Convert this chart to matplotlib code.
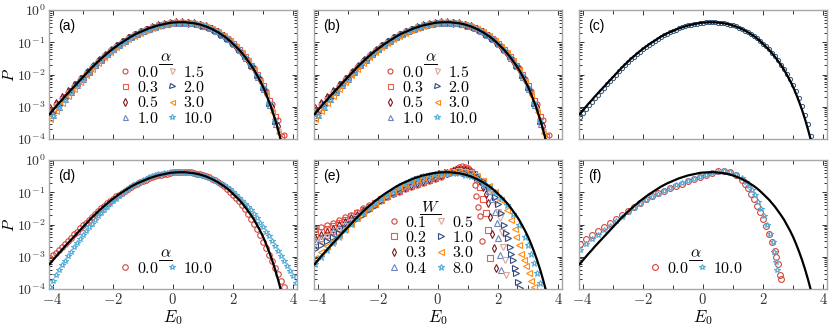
import numpy as np
import matplotlib.pyplot as plt
from matplotlib.ticker import MultipleLocator, LogLocator, NullFormatter, FuncFormatter
from matplotlib.lines import Line2D

plt.rcParams.update({
    'font.family': 'serif',
    'font.serif': ['cmr10', 'DejaVu Serif'],
    'mathtext.fontset': 'cm',
    'axes.formatter.use_mathtext': True,
})

# ---- data (log10 P) ----
e0_grid = [-4.1, -4.0, -3.9, -3.8, -3.7, -3.6, -3.5, -3.4, -3.3, -3.2, -3.1, -3.0,
           -2.9, -2.8, -2.7, -2.6, -2.5, -2.4, -2.3, -2.2, -2.1, -2.0, -1.9, -1.8,
           -1.7, -1.6, -1.5, -1.4, -1.3, -1.2, -1.1, -1.0, -0.9, -0.8, -0.7, -0.6,
           -0.5, -0.4, -0.3, -0.2, -0.1, 0.0, 0.1, 0.2, 0.3, 0.4, 0.5, 0.6, 0.7,
           0.8, 0.9, 1.0, 1.1, 1.2, 1.3, 1.4, 1.5, 1.6, 1.7, 1.8, 1.9, 2.0, 2.1,
           2.2, 2.3, 2.4, 2.5, 2.6, 2.7, 2.8, 2.9, 3.0, 3.1, 3.2, 3.3, 3.4, 3.5,
           3.6, 3.7, 3.8, 3.9, 4.0, 4.1]
e0_odd = e0_grid[0::2]    # -4.1, -3.9, ...
e0_even = e0_grid[1::2]   # -4.0, -3.8, ...

logp_theory = [-3.23, -3.12, -3.01, -2.90, -2.80, -2.69, -2.59, -2.49, -2.39, -2.29,
               -2.19, -2.09, -1.99, -1.89, -1.79, -1.70, -1.61, -1.52, -1.44, -1.36,
               -1.28, -1.21, -1.14, -1.07, -1.01, -0.95, -0.89, -0.83, -0.78, -0.73,
               -0.69, -0.65, -0.61, -0.57, -0.54, -0.51, -0.48, -0.46, -0.44, -0.42,
               -0.40, -0.39, -0.385, -0.38, -0.38, -0.38, -0.39, -0.40, -0.41, -0.43,
               -0.45, -0.48, -0.51, -0.55, -0.59, -0.64, -0.69, -0.75, -0.81, -0.88,
               -0.96, -1.05, -1.14, -1.23, -1.34, -1.45, -1.58, -1.71, -1.85, -2.02,
               -2.19, -2.38, -2.60, -2.84, -3.10, -3.39, -3.71, -4.06, -4.43]

alpha_labels = ['0.0', '0.3', '0.5', '1.0', '1.5', '2.0', '3.0', '10.0']
w_labels = ['0.1', '0.2', '0.3', '0.4', '0.5', '1.0', '3.0', '8.0']

# panels (a) and (b): alternate series on odd / even grid
alpha_on_odd = [True, False, True, False, True, False, True, False]
logp_alpha = [
    [-3.13, -2.93, -2.74, -2.54, -2.35, -2.16, -1.97, -1.77, -1.59, -1.42, -1.27, -1.13, -1.00, -0.88,
     -0.77, -0.68, -0.60, -0.53, -0.47, -0.43, -0.39, -0.375, -0.37, -0.38, -0.40, -0.44, -0.50, -0.58,
     -0.68, -0.80, -0.94, -1.12, -1.32, -1.55, -1.81, -2.14, -2.50, -2.90, -3.41, -3.88],
    [-3.08, -2.87, -2.67, -2.47, -2.27, -2.08, -1.88, -1.69, -1.51, -1.35, -1.20, -1.06, -0.94, -0.82,
     -0.72, -0.64, -0.56, -0.50, -0.45, -0.41, -0.38, -0.37, -0.37, -0.39, -0.42, -0.47, -0.54, -0.63,
     -0.74, -0.87, -1.03, -1.21, -1.43, -1.69, -1.99, -2.34, -2.78, -3.30, -3.90],
    [-3.05, -2.88, -2.70, -2.51, -2.33, -2.14, -1.95, -1.76, -1.58, -1.42, -1.27, -1.13, -1.00, -0.88,
     -0.78, -0.69, -0.61, -0.54, -0.48, -0.43, -0.40, -0.38, -0.38, -0.39, -0.41, -0.45, -0.51, -0.59,
     -0.69, -0.81, -0.96, -1.14, -1.34, -1.57, -1.84, -2.17, -2.56, -3.02, -3.60, -4.20],
    [-3.25, -3.00, -2.77, -2.55, -2.34, -2.13, -1.92, -1.72, -1.54, -1.37, -1.22, -1.08, -0.96, -0.84,
     -0.74, -0.65, -0.58, -0.52, -0.47, -0.43, -0.40, -0.39, -0.39, -0.41, -0.44, -0.49, -0.56, -0.65,
     -0.76, -0.89, -1.06, -1.25, -1.48, -1.75, -2.08, -2.46, -2.95, -3.55, -4.30],
    [-3.20, -2.99, -2.79, -2.58, -2.38, -2.18, -1.98, -1.79, -1.60, -1.43, -1.28, -1.14, -1.01, -0.89,
     -0.78, -0.69, -0.61, -0.54, -0.48, -0.44, -0.40, -0.38, -0.38, -0.39, -0.41, -0.45, -0.51, -0.59,
     -0.69, -0.81, -0.96, -1.14, -1.34, -1.58, -1.86, -2.20, -2.62, -3.12, -3.75, -4.40],
    [-3.18, -2.95, -2.73, -2.52, -2.31, -2.11, -1.90, -1.71, -1.53, -1.37, -1.22, -1.08, -0.96, -0.84,
     -0.74, -0.65, -0.58, -0.52, -0.47, -0.43, -0.40, -0.39, -0.39, -0.41, -0.44, -0.49, -0.56, -0.65,
     -0.76, -0.89, -1.06, -1.24, -1.46, -1.73, -2.05, -2.42, -2.90, -3.48, -4.20],
    [-3.38, -3.12, -2.89, -2.66, -2.45, -2.24, -2.03, -1.83, -1.64, -1.47, -1.31, -1.16, -1.03, -0.91,
     -0.80, -0.70, -0.62, -0.55, -0.49, -0.44, -0.40, -0.38, -0.37, -0.37, -0.39, -0.43, -0.49, -0.56,
     -0.66, -0.78, -0.93, -1.11, -1.31, -1.55, -1.84, -2.20, -2.63, -3.15, -3.80, -4.50],
    [-3.30, -3.02, -2.78, -2.55, -2.34, -2.13, -1.92, -1.72, -1.54, -1.38, -1.23, -1.09, -0.96, -0.85,
     -0.74, -0.66, -0.58, -0.52, -0.47, -0.43, -0.40, -0.39, -0.39, -0.40, -0.43, -0.48, -0.55, -0.64,
     -0.75, -0.88, -1.05, -1.23, -1.45, -1.72, -2.03, -2.40, -2.87, -3.42, -4.10],
]

# panel (c): single data set on the 0.1 grid
logp_c = [-3.32, -3.20, -3.08, -2.96, -2.85, -2.74, -2.63, -2.52, -2.42, -2.31, -2.21, -2.11,
          -2.00, -1.90, -1.80, -1.71, -1.62, -1.53, -1.45, -1.37, -1.29, -1.22, -1.15, -1.08,
          -1.02, -0.96, -0.90, -0.84, -0.79, -0.74, -0.69, -0.65, -0.61, -0.57, -0.54, -0.51,
          -0.48, -0.46, -0.44, -0.42, -0.40, -0.39, -0.385, -0.38, -0.38, -0.38, -0.39, -0.40,
          -0.41, -0.43, -0.45, -0.48, -0.51, -0.55, -0.59, -0.64, -0.69, -0.75, -0.81, -0.88,
          -0.96, -1.04, -1.13, -1.22, -1.33, -1.44, -1.56, -1.69, -1.83, -1.98, -2.14, -2.32,
          -2.52, -2.74, -2.98, -3.25, -3.55, -3.90]

# panel (d): alpha = 0.0 and 10.0 on the 0.1 grid
logp_d_a0 = [-3.05, -2.96, -2.87, -2.78, -2.69, -2.59, -2.50, -2.41, -2.31, -2.22, -2.12, -2.03,
             -1.94, -1.85, -1.76, -1.67, -1.58, -1.50, -1.42, -1.34, -1.27, -1.20, -1.13, -1.07,
             -1.01, -0.95, -0.89, -0.83, -0.78, -0.73, -0.69, -0.65, -0.61, -0.57, -0.54, -0.51,
             -0.48, -0.46, -0.44, -0.42, -0.40, -0.385, -0.375, -0.37, -0.365, -0.365, -0.37,
             -0.38, -0.40, -0.42, -0.44, -0.47, -0.50, -0.54, -0.58, -0.63, -0.69, -0.75, -0.82,
             -0.90, -0.98, -1.07, -1.17, -1.28, -1.40, -1.53, -1.67, -1.82, -1.98, -2.15, -2.34,
             -2.54, -2.74, -2.94, -3.14, -3.34, -3.54, -3.74, -3.94]
logp_d_a10 = [-3.93, -3.75, -3.58, -3.42, -3.27, -3.12, -2.98, -2.84, -2.71, -2.58, -2.45, -2.33,
              -2.21, -2.09, -1.97, -1.86, -1.75, -1.65, -1.55, -1.46, -1.37, -1.28, -1.20, -1.12,
              -1.04, -0.97, -0.90, -0.84, -0.78, -0.72, -0.67, -0.62, -0.58, -0.54, -0.50, -0.47,
              -0.44, -0.42, -0.40, -0.39, -0.38, -0.375, -0.375, -0.38, -0.385, -0.39, -0.40,
              -0.41, -0.43, -0.45, -0.47, -0.50, -0.53, -0.56, -0.60, -0.64, -0.69, -0.74, -0.79,
              -0.85, -0.91, -1.00, -1.08, -1.17, -1.26, -1.35, -1.45, -1.56, -1.68, -1.81, -1.94,
              -2.08, -2.22, -2.37, -2.52, -2.67, -2.82, -2.97, -3.12, -3.28, -3.44, -3.61, -3.80]

# panel (e): disorder W, common left part + individual right tails
e0_left = [-4.1, -3.9, -3.7, -3.5, -3.3, -3.1, -2.9, -2.7, -2.5, -2.3, -2.1, -1.9,
           -1.7, -1.5, -1.3, -1.1, -0.9, -0.7, -0.5, -0.3, -0.1, 0.1, 0.3]
logp_w_left = [
    [-2.15, -2.09, -2.02, -1.95, -1.87, -1.78, -1.69, -1.60, -1.50, -1.41, -1.32, -1.23,
     -1.14, -1.06, -0.98, -0.90, -0.83, -0.76, -0.70, -0.64, -0.59, -0.52, -0.44],
    [-2.30, -2.22, -2.13, -2.04, -1.95, -1.85, -1.75, -1.65, -1.55, -1.45, -1.33, -1.22,
     -1.12, -1.03, -0.95, -0.87, -0.80, -0.73, -0.67, -0.61, -0.55, -0.48, -0.41],
    [-2.42, -2.33, -2.23, -2.13, -2.03, -1.92, -1.81, -1.70, -1.59, -1.48, -1.36, -1.24,
     -1.13, -1.02, -0.93, -0.85, -0.78, -0.71, -0.65, -0.59, -0.53, -0.46, -0.40],
    [-2.52, -2.42, -2.32, -2.21, -2.10, -1.98, -1.86, -1.74, -1.62, -1.49, -1.36, -1.24,
     -1.12, -1.01, -0.90, -0.80, -0.72, -0.65, -0.59, -0.54, -0.49, -0.44, -0.40],
    [-2.60, -2.50, -2.39, -2.28, -2.16, -2.04, -1.92, -1.79, -1.66, -1.53, -1.40, -1.27,
     -1.14, -1.02, -0.90, -0.79, -0.70, -0.63, -0.57, -0.52, -0.47, -0.43, -0.39],
    [-2.75, -2.63, -2.51, -2.38, -2.25, -2.12, -1.98, -1.84, -1.70, -1.56, -1.42, -1.28,
     -1.15, -1.02, -0.89, -0.77, -0.68, -0.60, -0.54, -0.49, -0.45, -0.41, -0.38],
    [-3.05, -2.86, -2.68, -2.50, -2.32, -2.14, -1.97, -1.80, -1.64, -1.49, -1.35, -1.21,
     -1.08, -0.96, -0.85, -0.75, -0.66, -0.58, -0.52, -0.47, -0.43, -0.40, -0.38],
    [-3.22, -3.00, -2.79, -2.58, -2.38, -2.18, -1.99, -1.80, -1.62, -1.46, -1.31, -1.17,
     -1.04, -0.92, -0.81, -0.72, -0.63, -0.56, -0.50, -0.45, -0.42, -0.40, -0.39],
]
e0_w_tail = [
    [0.5, 0.6, 0.7, 0.8, 0.9, 1.0, 1.1, 1.16, 1.22, 1.28, 1.34, 1.40, 1.46],
    [0.5, 0.6, 0.7, 0.8, 0.9, 1.0, 1.1, 1.2, 1.3, 1.4, 1.5, 1.6, 1.67, 1.73],
    [0.5, 0.6, 0.7, 0.8, 0.9, 1.0, 1.1, 1.2, 1.3, 1.4, 1.5, 1.6, 1.67, 1.73, 1.80, 1.86, 1.95],
    [0.5, 0.7, 0.9, 1.1, 1.3, 1.5, 1.6, 1.7, 1.8, 1.9, 1.96, 2.01, 2.06, 2.11],
    [0.5, 0.7, 0.9, 1.1, 1.3, 1.5, 1.7, 1.8, 1.9, 2.0, 2.06, 2.12, 2.17, 2.22, 2.26],
    [0.5, 0.7, 0.9, 1.1, 1.3, 1.5, 1.7, 1.9, 2.0, 2.1, 2.2, 2.27, 2.33, 2.39, 2.45, 2.50,
     2.56, 2.61, 2.67, 2.72],
    [0.5, 0.7, 0.9, 1.1, 1.3, 1.5, 1.7, 1.9, 2.1, 2.3, 2.45, 2.55, 2.61, 2.70, 2.78, 2.86,
     2.94, 3.02, 3.11, 3.20],
    [0.5, 0.7, 0.9, 1.1, 1.3, 1.5, 1.7, 1.9, 2.1, 2.3, 2.5, 2.7, 2.9, 3.0, 3.1, 3.2, 3.3,
     3.4, 3.5],
]
logp_w_tail = [
    [-0.33, -0.27, -0.22, -0.20, -0.21, -0.25, -0.33, -0.50, -0.78, -1.12, -1.45, -1.75, -2.50],
    [-0.34, -0.31, -0.28, -0.27, -0.28, -0.31, -0.36, -0.44, -0.60, -0.85, -1.20, -1.65, -2.17, -3.05],
    [-0.35, -0.32, -0.30, -0.30, -0.31, -0.34, -0.38, -0.44, -0.53, -0.66, -0.84, -1.05, -1.34,
     -1.76, -2.30, -2.74, -3.35],
    [-0.36, -0.34, -0.34, -0.38, -0.48, -0.66, -0.79, -0.96, -1.20, -1.60, -1.95, -2.43, -2.95, -3.41],
    [-0.36, -0.35, -0.36, -0.40, -0.49, -0.64, -0.88, -1.06, -1.30, -1.60, -1.81, -2.22, -2.69,
     -3.10, -3.57],
    [-0.36, -0.37, -0.39, -0.44, -0.52, -0.65, -0.85, -1.15, -1.35, -1.65, -2.00, -2.25, -2.43,
     -2.69, -2.90, -3.10, -3.35, -3.51, -3.77, -3.98],
    [-0.37, -0.38, -0.41, -0.46, -0.54, -0.65, -0.80, -0.99, -1.24, -1.55, -1.85, -2.15, -2.40,
     -2.65, -2.90, -3.10, -3.30, -3.50, -3.75, -3.93],
    [-0.39, -0.41, -0.45, -0.51, -0.59, -0.70, -0.83, -0.99, -1.18, -1.41, -1.68, -2.00, -2.40,
     -2.65, -2.90, -3.18, -3.50, -3.80, -4.10],
]

# panel (f): alpha = 0.0 and 10.0
e0_f_a0 = e0_left + [0.5, 0.7, 0.9, 1.1, 1.3, 1.4, 1.5, 1.6, 1.7, 1.8, 1.9, 2.0, 2.1, 2.2,
                     2.3, 2.4, 2.45, 2.5, 2.55, 2.6]
logp_f_a0 = [-2.62, -2.45, -2.33, -2.20, -2.08, -1.95, -1.82, -1.69, -1.57, -1.45, -1.33, -1.22,
             -1.12, -1.03, -0.95, -0.87, -0.80, -0.73, -0.66, -0.60, -0.54, -0.47, -0.40,
             -0.34, -0.33, -0.37, -0.46, -0.62, -0.74, -0.88, -1.05, -1.22, -1.42, -1.62, -1.82,
             -2.05, -2.30, -2.55, -2.82, -3.00, -3.22, -3.58, -3.68]
e0_f_a10 = e0_left + [0.5, 0.7, 0.9, 1.1, 1.3, 1.45, 1.55, 1.65, 1.75, 1.85, 1.95, 2.05, 2.15,
                      2.25, 2.32, 2.38, 2.43, 2.47]
logp_f_a10 = [-2.78, -2.60, -2.46, -2.32, -2.18, -2.04, -1.90, -1.76, -1.62, -1.49, -1.37, -1.25,
              -1.14, -1.04, -0.95, -0.87, -0.79, -0.72, -0.65, -0.59, -0.53, -0.47, -0.41,
              -0.36, -0.35, -0.38, -0.45, -0.57, -0.68, -0.80, -0.94, -1.10, -1.30, -1.52, -1.75,
              -2.00, -2.28, -2.55, -2.84, -3.15, -3.40]

# ---- styles ----
markers = ['o', 's', 'd', '^', 'v', '>', '<', '*']
colors = ['#d2473d', '#f0584a', '#7a1a1e', '#6a86c0', '#d9a699', '#2f4a7e', '#ff8a12', '#56acd6']
c_color = '#34557a'


def mk(ax, e, lp, i, ms=3.6, label=None):
    e = e[:len(lp)]
    return ax.plot(e, 10 ** np.array(lp), ls='none', marker=markers[i], mfc='none',
                   mec=colors[i], mew=0.8, ms=ms + (0.8 if markers[i] == '*' else 0),
                   label=None if label is None else r'$%s$' % label)[0]


def theory(ax):
    ax.plot(e0_grid[:len(logp_theory)], 10 ** np.array(logp_theory), color='k', lw=1.6, zorder=5)


def style(ax, letter, left, bottom):
    ax.set_yscale('log')
    ax.set_ylim(1e-4, 1)
    ax.set_xlim(-4.12, 4.13)
    ax.xaxis.set_major_locator(MultipleLocator(2))
    ax.xaxis.set_minor_locator(MultipleLocator(1))
    ax.xaxis.set_major_formatter(FuncFormatter(lambda v, p: r'$%d$' % round(v)))
    ax.yaxis.set_major_locator(LogLocator(base=10, numticks=10))
    ax.yaxis.set_major_formatter(FuncFormatter(lambda v, p: r'$10^{%d}$' % round(np.log10(v))))
    ax.yaxis.set_minor_locator(LogLocator(base=10, subs=np.arange(2, 10), numticks=10))
    ax.yaxis.set_minor_formatter(NullFormatter())
    ax.tick_params(which='both', direction='in', top=True, right=True, color='#333333',
                   labelsize=10.5, labelcolor='#333333', width=0.7)
    ax.tick_params(which='major', length=3.5, pad=3)
    ax.tick_params(axis='x', which='major', pad=2)
    ax.tick_params(axis='y', which='major', pad=2.5, labelsize=10)
    ax.tick_params(axis='y', which='minor', length=2)
    ax.tick_params(axis='x', which='minor', length=3)
    for s in ax.spines.values():
        s.set_color('#a8a8a8')
        s.set_linewidth(1.0)
    if not left:
        ax.tick_params(labelleft=False)
    else:
        ax.set_ylabel(r'$P$', fontsize=11.5)
        ax.yaxis.set_label_coords(-0.13, 0.5)
    if not bottom:
        ax.tick_params(labelbottom=False)
    else:
        ax.set_xlabel(r'$E_0$', fontsize=12)
        ax.xaxis.set_label_coords(0.5, -0.145)
    ax.text(0.035, 0.93, '(%s)' % letter, transform=ax.transAxes, ha='left', va='top',
            fontsize=10, family='Liberation Sans')


def legend(ax, handles, title):
    leg = ax.legend(handles=handles, ncol=2, frameon=False, fontsize=11.5, title=title,
                    title_fontsize=11.5, handlelength=0.9, handletextpad=0.25,
                    columnspacing=0.4, labelspacing=0.02, borderpad=0.1,
                    loc='lower center', bbox_to_anchor=(0.47, 0.03))
    leg._legend_box.sep = 0
    return leg


fig = plt.figure(figsize=(8.31, 3.26), dpi=100)
lefts = [49 / 831, 314 / 831, 579 / 831]
w_ax = 248 / 831
h_ax = 129 / 326
bottoms = [(326 - 139) / 326, (326 - 289) / 326]
axs = [[fig.add_axes([l, b, w_ax, h_ax]) for l in lefts] for b in bottoms]
legs = []

# (a) and (b)
for ax in (axs[0][0], axs[0][1]):
    hs = []
    for i in range(8):
        grid = e0_odd if alpha_on_odd[i] else e0_even
        hs.append(mk(ax, grid, logp_alpha[i], i, label=alpha_labels[i]))
    theory(ax)
    legs.append(legend(ax, hs, r'$\alpha$'))

# (c)
axc = axs[0][2]
axc.plot(e0_grid[:len(logp_c)], 10 ** np.array(logp_c), ls='none', marker='o', mfc='none',
         mec=c_color, mew=0.7, ms=3.0)
theory(axc)

# (d)
axd = axs[1][0]
h0 = mk(axd, e0_grid, logp_d_a0, 0, ms=4.0, label='0.0')
h7 = mk(axd, e0_grid, logp_d_a10, 7, ms=3.0, label='10.0')
theory(axd)
legs.append(legend(axd, [h0, h7], r'$\alpha$'))

# (e)
axe = axs[1][1]
hs = []
for i in range(8):
    e = e0_left + e0_w_tail[i]
    lp = logp_w_left[i] + logp_w_tail[i]
    hs.append(mk(axe, e, lp, i, ms=3.8, label=w_labels[i]))
theory(axe)
legs.append(legend(axe, hs, r'$W$'))

# (f)
axf = axs[1][2]
h0 = mk(axf, e0_f_a0, logp_f_a0, 0, ms=4.2, label='0.0')
h7 = mk(axf, e0_f_a10, logp_f_a10, 7, ms=3.4, label='10.0')
theory(axf)
legs.append(legend(axf, [h0, h7], r'$\alpha$'))

for r, row in enumerate(axs):
    for c, ax in enumerate(row):
        style(ax, 'abcdef'[3 * r + c], left=(c == 0), bottom=(r == 1))

# underline the legend titles
fig.canvas.draw()
rend = fig.canvas.get_renderer()
inv = fig.transFigure.inverted()
for leg in legs:
    bb = leg.get_title().get_window_extent(rend)
    (x0, y0), (x1, y1) = inv.transform([[bb.x0 - 1, bb.y0], [bb.x1 + 1, bb.y1]])
    fig.add_artist(Line2D([x0, x1], [y0 + 0.5 / 326, y0 + 0.5 / 326],
                          transform=fig.transFigure, color='k', lw=0.7))

fig.savefig('out.png', dpi=100)
